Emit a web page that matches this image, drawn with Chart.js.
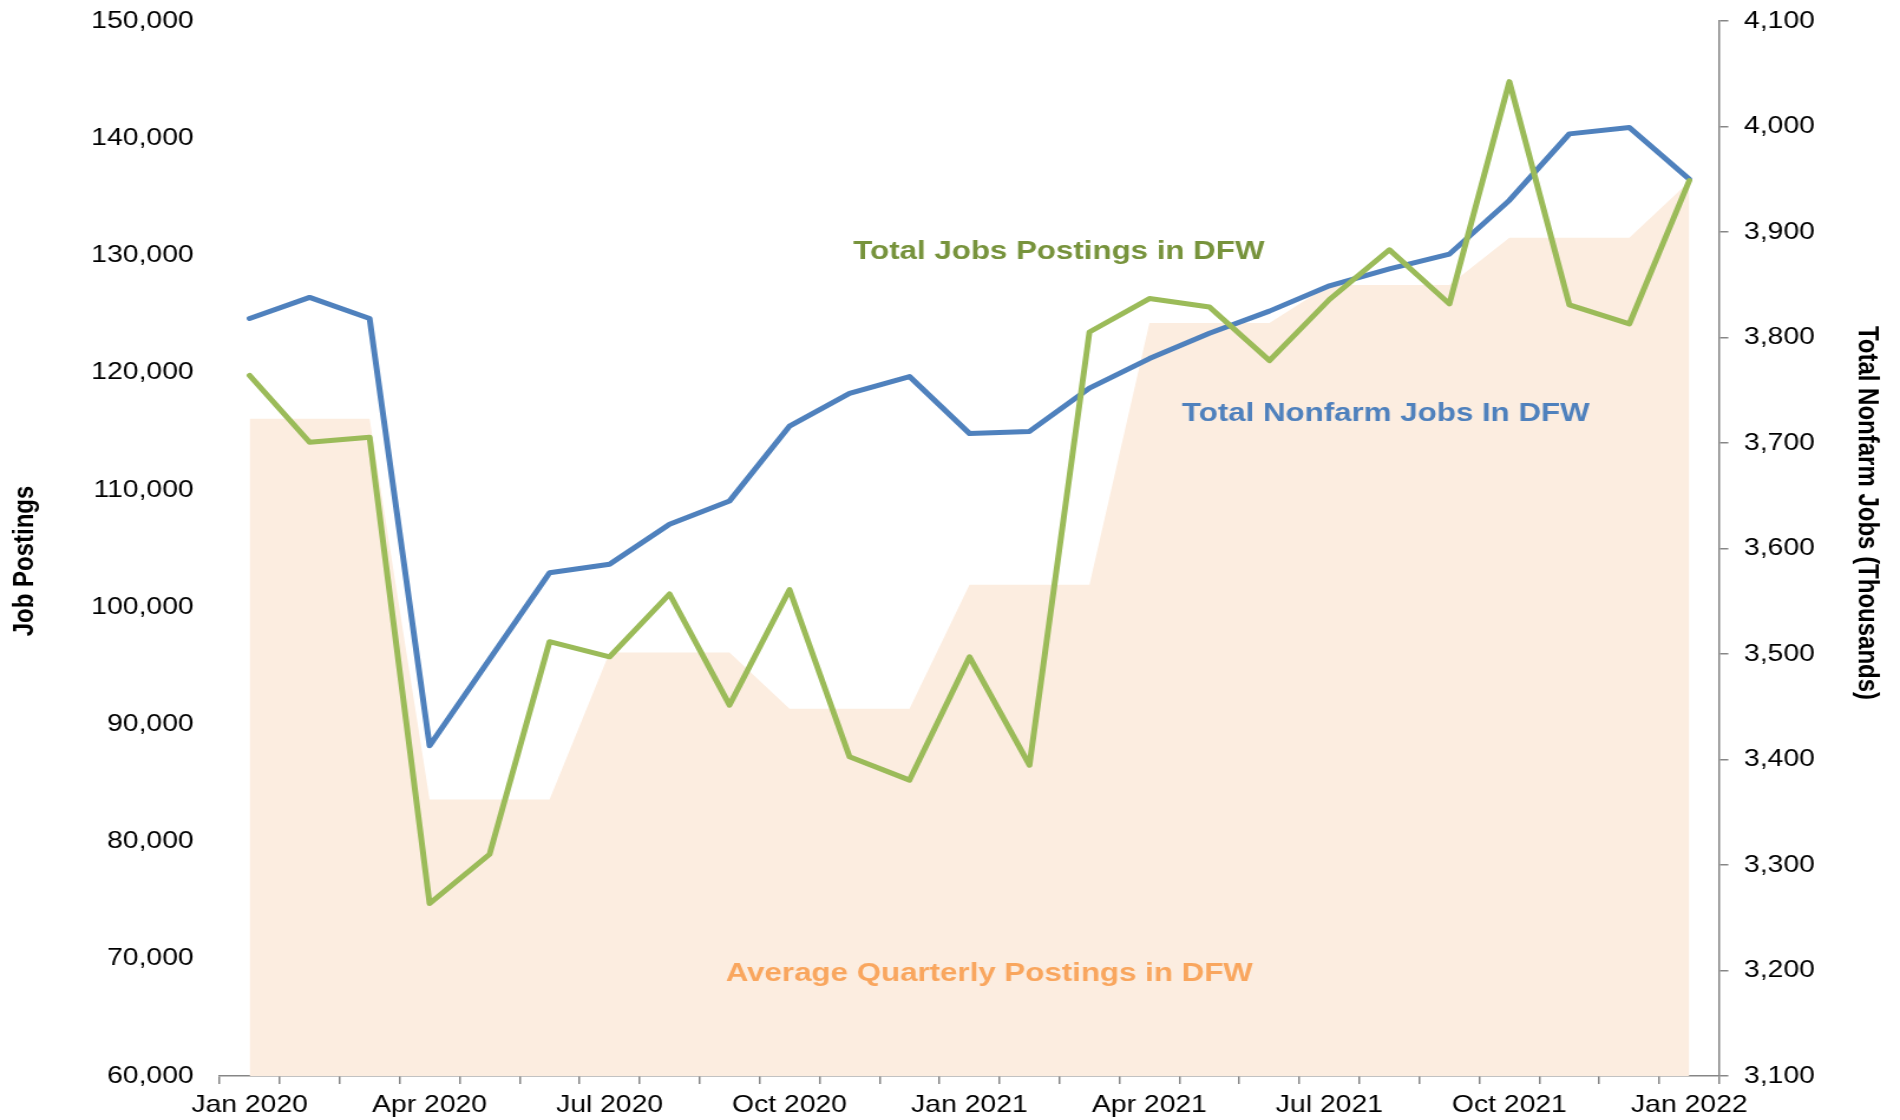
<!DOCTYPE html>
<html>
<head>
<meta charset="utf-8">
<script src="https://cdn.jsdelivr.net/npm/chart.js@4.4.1/dist/chart.umd.min.js"></script>
<style>
html,body{margin:0;padding:0;background:#ffffff;overflow:hidden;}
#c{display:block;width:1900px;height:1120px;}
</style>
</head>
<body>
<canvas id="c" width="1610" height="1120"></canvas>
<script>
// ---- data ----
const months = ['Jan 2020','Feb 2020','Mar 2020','Apr 2020','May 2020','Jun 2020','Jul 2020','Aug 2020','Sep 2020','Oct 2020','Nov 2020','Dec 2020',
                'Jan 2021','Feb 2021','Mar 2021','Apr 2021','May 2021','Jun 2021','Jul 2021','Aug 2021','Sep 2021','Oct 2021','Nov 2021','Dec 2021','Jan 2022'];
const tickLabels = ['Jan 2020','Apr 2020','Jul 2020','Oct 2020','Jan 2021','Apr 2021','Jul 2021','Oct 2021','Jan 2022'];
const jobPostings = [119760,114070,114490,74720,78920,97050,95760,101120,91640,101490,87230,85240,
                     95750,86520,123470,126320,125600,121030,126240,130480,125870,144830,125780,124160,136390];
const nonfarmJobs = [3818,3838,3818,3413,3495,3577,3585,3623,3645,3716,3747,3763,
                     3709,3711,3752,3780,3804,3825,3849,3865,3879,3930,3993,3999,3950];
const avgQuarterlyPostings = [116060,116060,116060,83590,83590,83590,96120,96120,96120,91330,91330,91330,
                              101900,101900,101900,124230,124230,124230,127480,127480,127480,131520,131520,131520,136300];
const leftAxisTitle = 'Job Postings';
const rightAxisTitle = 'Total Nonfarm Jobs (Thousands)';
const postingsLabel = 'Total Jobs Postings in DFW';
const nonfarmLabel = 'Total Nonfarm Jobs In DFW';
const averageLabel = 'Average Quarterly Postings in DFW';

const FONT = '"Liberation Sans", Arial, Helvetica, sans-serif';
const fmt = v => Number(v).toLocaleString('en-US');

const annotations = {
  id: 'annotations',
  afterDraw(chart) {
    const ctx = chart.ctx;
    const xs = chart.scales.x, ys = chart.scales.y;
    ctx.save();
    ctx.textAlign = 'center';
    ctx.textBaseline = 'alphabetic';
    ctx.font = 'bold 26.5px ' + FONT;
    ctx.fillStyle = '#77933C';
    ctx.fillText(postingsLabel, xs.getPixelForValue(13.49), ys.getPixelForValue(129700));
    ctx.fillStyle = '#4F81BD';
    ctx.fillText(nonfarmLabel, xs.getPixelForValue(18.94), ys.getPixelForValue(115885));
    ctx.fillStyle = '#F9A65E';
    ctx.fillText(averageLabel, xs.getPixelForValue(12.33), ys.getPixelForValue(68105));

    ctx.font = 'bold 24px ' + FONT;
    ctx.fillStyle = '#000000';
    ctx.save();
    ctx.translate(28.4, 561);
    ctx.rotate(-Math.PI / 2);
    ctx.fillText(leftAxisTitle, 0, 0);
    ctx.restore();
    ctx.save();
    ctx.translate(1574.7, 513);
    ctx.rotate(Math.PI / 2);
    ctx.fillText(rightAxisTitle, 0, 0);
    ctx.restore();
    ctx.restore();
  }
};

const axisGray = '#868686';
const chart = new Chart(document.getElementById('c'), {
  type: 'line',
  data: {
    labels: months,
    datasets: [
      {
        label: postingsLabel,
        data: jobPostings,
        yAxisID: 'y',
        borderColor: '#9BBB59',
        borderWidth: 5,
        pointRadius: 0,
        tension: 0,
        fill: false,
        borderCapStyle: 'round',
        borderJoinStyle: 'round',
        order: 0
      },
      {
        label: nonfarmLabel,
        data: nonfarmJobs,
        yAxisID: 'y1',
        borderColor: '#4F81BD',
        borderWidth: 5,
        pointRadius: 0,
        tension: 0,
        fill: false,
        borderCapStyle: 'round',
        borderJoinStyle: 'round',
        order: 1
      },
      {
        label: averageLabel,
        data: avgQuarterlyPostings,
        yAxisID: 'y',
        borderColor: 'rgba(0,0,0,0)',
        borderWidth: 0,
        backgroundColor: '#FCEDE0',
        pointRadius: 0,
        tension: 0,
        fill: 'start',
        order: 2
      }
    ]
  },
  options: {
    responsive: false,
    maintainAspectRatio: false,
    devicePixelRatio: 1,
    animation: false,
    layout: { padding: { top: 21, left: 0, right: 0, bottom: 0 } },
    plugins: { legend: { display: false }, tooltip: { enabled: false }, title: { display: false } },
    scales: {
      x: {
        type: 'category',
        offset: true,
        grid: { offset: true, drawOnChartArea: false, drawTicks: true, tickLength: 8, color: axisGray, lineWidth: 1.5 },
        border: { display: true, color: axisGray, width: 1.5 },
        ticks: {
          autoSkip: false, maxRotation: 0, minRotation: 0, padding: 7,
          color: '#000000', font: { family: FONT, size: 24 },
          callback: function(v, i) { return tickLabels.includes(months[i]) ? months[i] : ''; }
        },
        afterFit(scale) { scale.height = 44; scale.paddingLeft = 0; scale.paddingRight = 0; }
      },
      y: {
        position: 'left',
        min: 60000, max: 150000,
        grid: { display: false, drawTicks: false },
        border: { display: false },
        ticks: { stepSize: 10000, padding: 22, color: '#000000', font: { family: FONT, size: 24 }, callback: v => fmt(v) },
        afterFit(scale) { scale.width = 186.1; scale.paddingTop = 0; scale.paddingBottom = 0; }
      },
      y1: {
        position: 'right',
        min: 3100, max: 4100,
        grid: { drawOnChartArea: false, drawTicks: true, tickLength: 7.6, color: axisGray, lineWidth: 1.5 },
        border: { display: true, color: axisGray, width: 1.5 },
        ticks: { stepSize: 100, padding: 13.3, color: '#000000', font: { family: FONT, size: 24 }, callback: v => fmt(v) },
        afterFit(scale) { scale.width = 153.1; scale.paddingTop = 0; scale.paddingBottom = 0; }
      }
    }
  },
  plugins: [annotations]
});
const cv = document.getElementById('c');
cv.style.width = '1900px';
cv.style.height = '1120px';
</script>
</body>
</html>
